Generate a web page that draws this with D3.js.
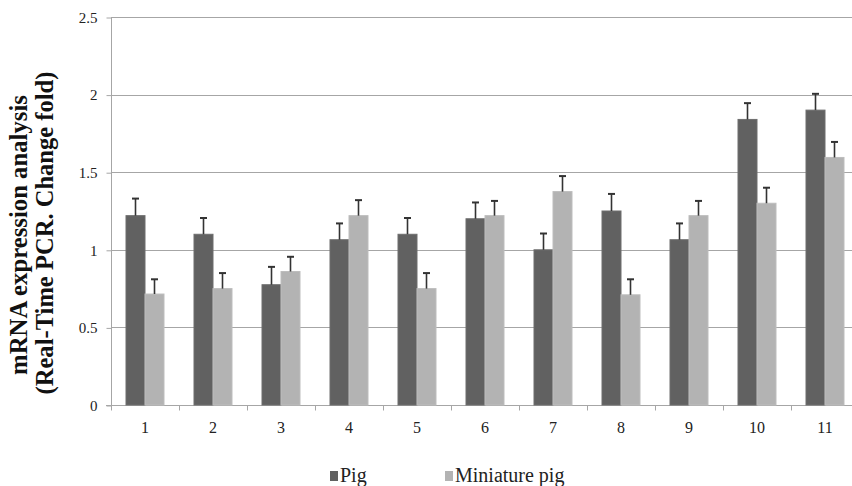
<!DOCTYPE html>
<html>
<head>
<meta charset="utf-8">
<script src="https://cdn.jsdelivr.net/npm/d3@7.9.0/dist/d3.min.js"></script>
<style>
  html, body { margin: 0; padding: 0; background: #fff; overflow: hidden; }
  svg { display: block; }
  svg text { font-family: "Liberation Serif", "Times New Roman", serif; }
</style>
</head>
<body>
<div id="chart"></div>
<script>
const categories = ['1', '2', '3', '4', '5', '6', '7', '8', '9', '10', '11'];
const series = ['Pig', 'Miniature pig'];
const pigValues = [1.22, 1.10, 0.775, 1.065, 1.10, 1.20, 1.00, 1.25, 1.065, 1.84, 1.90];
const pigErrors = [0.11, 0.105, 0.115, 0.105, 0.105, 0.105, 0.105, 0.11, 0.105, 0.105, 0.105];
const miniValues = [0.715, 0.75, 0.86, 1.22, 0.75, 1.22, 1.375, 0.71, 1.22, 1.30, 1.595];
const miniErrors = [0.095, 0.10, 0.095, 0.10, 0.10, 0.095, 0.10, 0.10, 0.095, 0.10, 0.10];
const yTicks = [0, 0.5, 1, 1.5, 2, 2.5];
const yTickLabels = ['0', '0.5', '1', '1.5', '2', '2.5'];
const titleLines = ['mRNA expression analysis', '(Real-Time PCR. Change fold)'];
const colors = { 'Pig': '#616161', 'Miniature pig': '#b3b3b3' };

const width = 852;
const height = 486;
const plot = { left: 111, right: 859, top: 17, bottom: 405 };

const rows = categories.map((c, i) => ({
  cat: c,
  bars: [
    { key: 'Pig', value: pigValues[i], err: pigErrors[i] },
    { key: 'Miniature pig', value: miniValues[i], err: miniErrors[i] },
  ],
}));

const svg = d3.select('#chart').append('svg')
  .attr('width', width)
  .attr('height', height);

const x0 = d3.scaleBand()
  .domain(categories)
  .range([plot.left, plot.right])
  .padding(0);

const x1 = d3.scaleBand()
  .domain(series)
  .range([0, x0.bandwidth()])
  .paddingInner(0)
  .paddingOuter(15 / 19);

const y = d3.scaleLinear()
  .domain([0, 2.5])
  .range([plot.bottom, plot.top]);

// gridlines
svg.append('g')
  .selectAll('line')
  .data(yTicks.filter(d => d > 0))
  .join('line')
  .attr('x1', plot.left)
  .attr('x2', plot.right)
  .attr('y1', d => Math.round(y(d)) + 0.5)
  .attr('y2', d => Math.round(y(d)) + 0.5)
  .attr('stroke', '#a6a6a6')
  .attr('stroke-width', 1);

// y axis
const yAxis = d3.axisLeft(y)
  .tickValues(yTicks)
  .tickFormat((d, i) => yTickLabels[i])
  .tickSize(5)
  .tickPadding(9);

const gy = svg.append('g')
  .attr('transform', `translate(${plot.left + 0.5}, 0.5)`)
  .call(yAxis)
  .attr('font-family', null)
  .attr('font-size', null);
gy.select('.domain').attr('stroke', '#a6a6a6').attr('d', `M0,${Math.round(y(2.5))}V${Math.round(y(0))}`);
gy.selectAll('.tick line').attr('stroke', '#a6a6a6');
gy.selectAll('.tick text')
  .attr('fill', '#222')
  .style('font-size', '15px');

// x axis
const gx = svg.append('g')
  .attr('transform', `translate(0, ${Math.round(y(0)) + 0.5})`);
gx.append('line')
  .attr('x1', plot.left - 5)
  .attr('x2', plot.right)
  .attr('stroke', '#a6a6a6');
gx.selectAll('line.tick')
  .data(categories)
  .join('line')
  .attr('class', 'tick')
  .attr('x1', d => Math.round(x0(d)) + 0.5)
  .attr('x2', d => Math.round(x0(d)) + 0.5)
  .attr('y1', 0)
  .attr('y2', 5)
  .attr('stroke', '#a6a6a6');
gx.selectAll('text')
  .data(categories)
  .join('text')
  .attr('x', d => x0(d) + x0.bandwidth() / 2)
  .attr('y', 27.5)
  .attr('text-anchor', 'middle')
  .attr('fill', '#222')
  .style('font-size', '16px')
  .text(d => d);

// bars
const groups = svg.append('g')
  .selectAll('g')
  .data(rows)
  .join('g')
  .attr('transform', d => `translate(${x0(d.cat)}, 0)`);

groups.selectAll('rect')
  .data(d => d.bars)
  .join('rect')
  .attr('x', d => x1(d.key))
  .attr('y', d => y(d.value))
  .attr('width', x1.bandwidth())
  .attr('height', d => y(0) - y(d.value))
  .attr('fill', d => colors[d.key])
  .attr('stroke', d => d.key === 'Pig' ? '#6e6e6e' : '#bdbdbd')
  .attr('stroke-width', 1);

// error bars
const errs = groups.selectAll('g.err')
  .data(d => d.bars)
  .join('g')
  .attr('class', 'err')
  .attr('transform', d => `translate(${x1(d.key) + x1.bandwidth() / 2}, 0)`);

errs.append('line')
  .attr('x1', 0).attr('x2', 0)
  .attr('y1', d => y(d.value))
  .attr('y2', d => y(d.value + d.err))
  .attr('stroke', '#333')
  .attr('stroke-width', 1.6);

errs.append('line')
  .attr('x1', -3.5).attr('x2', 3.5)
  .attr('y1', d => y(d.value + d.err))
  .attr('y2', d => y(d.value + d.err))
  .attr('stroke', '#333')
  .attr('stroke-width', 2);

// y title: size each line so it spans the same length as in the original
const titleSpec = [
  { x: 27, cy: 235, len: 280 },
  { x: 53, cy: 233, len: 323 },
];
titleLines.forEach((line, i) => {
  const t = svg.append('text')
    .attr('transform', `translate(${titleSpec[i].x}, ${titleSpec[i].cy}) rotate(-90)`)
    .attr('text-anchor', 'middle')
    .attr('fill', '#111')
    .style('font-size', '20px')
    .style('font-weight', 'bold')
    .text(line);
  const measured = t.node().getComputedTextLength();
  if (measured > 0) t.style('font-size', `${(20 * titleSpec[i].len / measured).toFixed(2)}px`);
});

// legend
const legend = svg.append('g')
  .attr('transform', 'translate(0, 482)');
const legendX = [330, 445];
const items = legend.selectAll('g')
  .data(series)
  .join('g')
  .attr('transform', (d, i) => `translate(${legendX[i]}, 0)`);
items.append('rect')
  .attr('x', 0)
  .attr('y', -11)
  .attr('width', 8)
  .attr('height', 10)
  .attr('fill', d => colors[d]);
items.append('text')
  .attr('x', 10)
  .attr('y', 0)
  .attr('fill', '#222')
  .style('font-size', '20px')
  .text(d => d);
</script>
</body>
</html>
